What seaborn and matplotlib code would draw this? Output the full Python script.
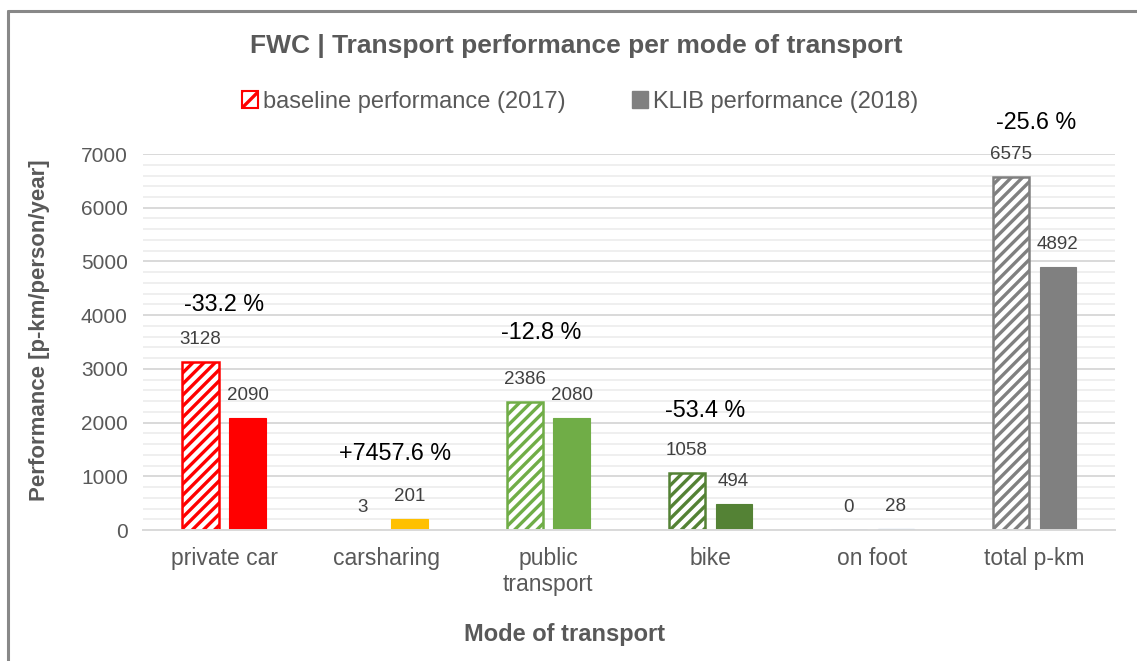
import numpy as np
import pandas as pd
import matplotlib
matplotlib.use("Agg")
import matplotlib.pyplot as plt
from matplotlib.patches import Patch
from matplotlib.lines import Line2D
from matplotlib.ticker import MultipleLocator
import seaborn as sns

# --- data ---
modes = ["private car", "carsharing", "public\ntransport", "bike", "on foot", "total p-km"]
baseline_2017 = [3128, 3, 2386, 1058, 0, 6575]
klib_2018 = [2090, 201, 2080, 494, 28, 4892]
change_labels = ["-33.2 %", "+7457.6 %", "-12.8 %", "-53.4 %", "", "-25.6 %"]
series_names = ["baseline performance (2017)", "KLIB performance (2018)"]

# --- styling / layout ---
mode_colors = ["#FF0000", "#FFC000", "#70AD47", "#548235", "#4472C4", "#808080"]
change_label_y = [4190, 1430, 3670, 2235, 0, 7595]
change_label_dx = [0.0, 0.055, -0.04, -0.03, 0.0, 0.01]
text_grey = "#595959"

sns.set_theme(style="white")
plt.rcParams["font.family"] = ["Liberation Sans", "DejaVu Sans"]
plt.rcParams["hatch.linewidth"] = 2.4

df = pd.DataFrame({
    "mode": modes * 2,
    "value": baseline_2017 + klib_2018,
    "series": [series_names[0]] * len(modes) + [series_names[1]] * len(modes),
})

fig = plt.figure(figsize=(11.37, 6.61), dpi=100)
ax = fig.add_axes([0.1258, 0.198, 0.855, 0.569])

sns.barplot(data=df, x="mode", y="value", hue="series", hue_order=series_names,
            order=modes, width=0.58, gap=0.23, ax=ax, legend=False,
            palette=["#cccccc", "#808080"], saturation=1)

base_bars, klib_bars = ax.containers[0], ax.containers[1]
for patch, col in zip(base_bars, mode_colors):
    patch.set_facecolor("white")
    patch.set_edgecolor(col)
    patch.set_hatch("///")
    patch.set_linewidth(1.8)
for patch, col in zip(klib_bars, mode_colors):
    patch.set_facecolor(col)
    patch.set_edgecolor(col)
    patch.set_linewidth(0.8)

ax.bar_label(base_bars, labels=[str(v) for v in baseline_2017], padding=10,
             fontsize=13.5, color="#404040")
ax.bar_label(klib_bars, labels=[str(v) for v in klib_2018], padding=10,
             fontsize=13.5, color="#404040")

for i, txt in enumerate(change_labels):
    if txt:
        ax.text(i + change_label_dx[i], change_label_y[i], txt, ha="center", va="center",
                fontsize=16.8, color="black", clip_on=False)

ax.set_xlim(-0.5, len(modes) - 0.5)
ax.set_ylim(0, 7000)
ax.yaxis.set_major_locator(MultipleLocator(1000))
ax.yaxis.set_minor_locator(MultipleLocator(200))
ax.grid(which="minor", axis="y", color="#EEEEEE", linewidth=1.3)
ax.grid(which="major", axis="y", color="#D9D9D9", linewidth=1.4)
ax.set_axisbelow(True)
for side in ["left", "right", "top"]:
    ax.spines[side].set_visible(False)
ax.spines["bottom"].set_color("#D9D9D9")
ax.spines["bottom"].set_linewidth(1.4)

ax.tick_params(axis="y", which="both", length=0, pad=11, labelsize=15, labelcolor=text_grey)
ax.tick_params(axis="x", length=0, pad=12, labelsize=16.5, labelcolor=text_grey)

ax.set_xlabel("Mode of transport", fontsize=17, fontweight="bold", color=text_grey, labelpad=19)
ax.xaxis.label.set_x(0.434)
ax.set_ylabel("Performance [p-km/person/year]", fontsize=16, fontweight="bold",
              color=text_grey, labelpad=22)
ax.yaxis.label.set_y(0.532)

fig.text(0.507, 0.93, "FWC | Transport performance per mode of transport", ha="center",
         va="center", fontsize=19, fontweight="bold", color=text_grey)

handles = [
    Patch(facecolor="white", edgecolor=mode_colors[0], hatch="//", linewidth=1.5),
    Patch(facecolor=mode_colors[-1], edgecolor=mode_colors[-1]),
]
fig.legend(handles, series_names, loc="center", bbox_to_anchor=(0.51, 0.846), ncol=2,
           frameon=False, fontsize=17, labelcolor=text_grey, handlelength=0.7,
           handleheight=0.7, handletextpad=0.2, columnspacing=2.8)

# outer chart frame (only top and left edges are inside the picture)
fig.add_artist(Line2D([8 / 1137, 8 / 1137], [0, 1 - 11 / 661], transform=fig.transFigure,
                      color="#888888", linewidth=2.2))
fig.add_artist(Line2D([8 / 1137, 1], [1 - 11 / 661, 1 - 11 / 661], transform=fig.transFigure,
                      color="#888888", linewidth=2.2))

fig.savefig("out.png", dpi=100)
